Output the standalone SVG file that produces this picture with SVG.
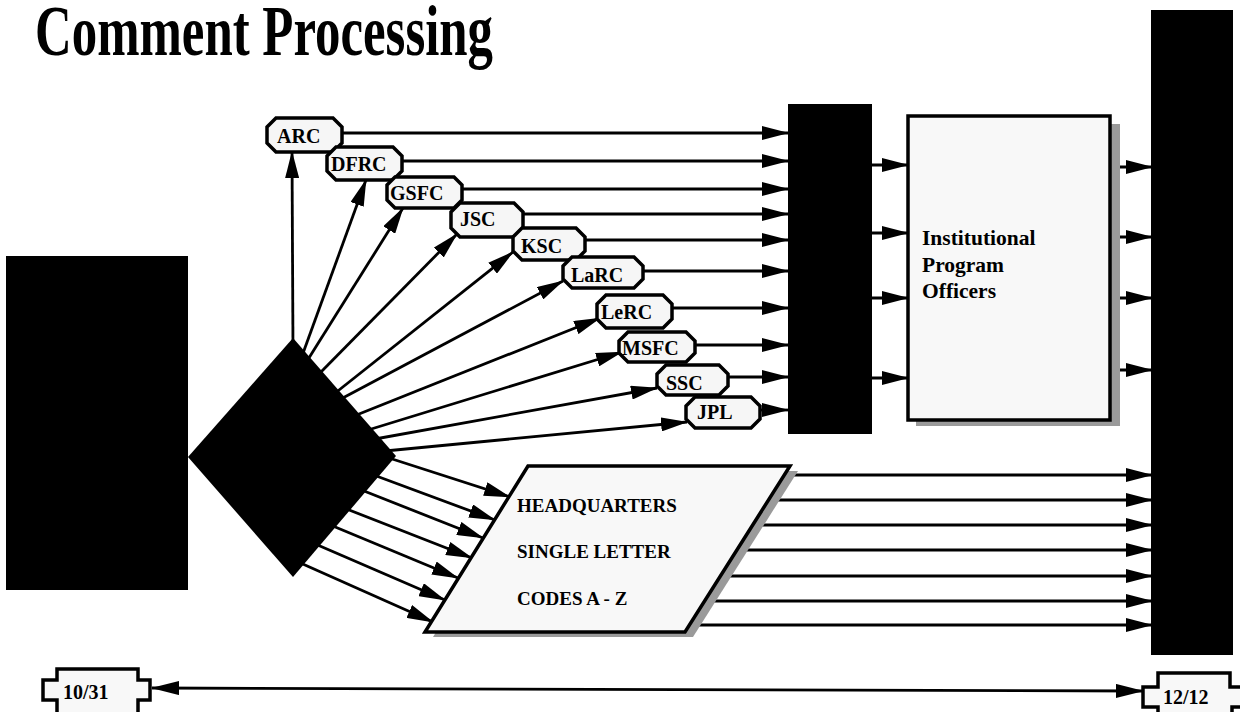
<svg xmlns="http://www.w3.org/2000/svg" width="1240" height="712" viewBox="0 0 1240 712">
<style>
  .t { font-family: "Liberation Serif", "Times New Roman", serif; font-weight: bold; fill: #000; }
  .lbl { font-size: 20px; }
  .blk { fill: #000; stroke: none; }
  .oct { fill: #f6f6f6; stroke: #000; stroke-width: 3.5; stroke-linejoin: miter; }
  .box { fill: #f8f8f8; stroke: #000; stroke-width: 3.5; }
  .shadow { fill: #9a9a9a; stroke: none; }
  .c line { stroke: #000; stroke-width: 2.8; fill: none; marker-end: url(#ah); }
</style>
<defs>
  <marker id="ah" markerUnits="userSpaceOnUse" viewBox="0 0 27 14" refX="26" refY="7" markerWidth="27" markerHeight="14" orient="auto">
    <path d="M0,0 L27,7 L0,14 z" fill="#000"/>
  </marker>
  <marker id="ahs" markerUnits="userSpaceOnUse" viewBox="0 0 28 14" refX="27" refY="7" markerWidth="28" markerHeight="14" orient="auto-start-reverse">
    <path d="M0,0 L28,7 L0,14 z" fill="#000"/>
  </marker>
</defs>
<rect width="1240" height="712" fill="#fff"/>

<text id="title" class="t" x="35" y="55" font-size="72" textLength="458" lengthAdjust="spacingAndGlyphs">Comment Processing</text>

<g id="connectors" class="c">
  <!-- diamond to centers -->
  <line x1="293" y1="350" x2="292" y2="152"/>
  <line x1="302" y1="356" x2="366" y2="180"/>
  <line x1="307" y1="361" x2="403" y2="208"/>
  <line x1="318" y1="375" x2="457" y2="234"/>
  <line x1="334" y1="394" x2="513" y2="252"/>
  <line x1="339" y1="400" x2="563" y2="281"/>
  <line x1="354" y1="416" x2="600" y2="318"/>
  <line x1="368" y1="430" x2="622" y2="352"/>
  <line x1="375" y1="439" x2="657" y2="388"/>
  <line x1="385" y1="451" x2="687" y2="422"/>
  <!-- centers to middle column -->
  <line x1="340" y1="133" x2="788" y2="133"/>
  <line x1="400" y1="161" x2="788" y2="161"/>
  <line x1="460" y1="189" x2="788" y2="189"/>
  <line x1="521" y1="214" x2="788" y2="214"/>
  <line x1="583" y1="240" x2="788" y2="240"/>
  <line x1="641" y1="271" x2="788" y2="271"/>
  <line x1="670" y1="308" x2="788" y2="308"/>
  <line x1="693" y1="345" x2="788" y2="345"/>
  <line x1="726" y1="377" x2="788" y2="377"/>
  <line x1="758" y1="410" x2="788" y2="410"/>
  <!-- middle column to institutional box -->
  <line x1="872" y1="165" x2="908" y2="165"/>
  <line x1="872" y1="233" x2="908" y2="233"/>
  <line x1="872" y1="298" x2="908" y2="298"/>
  <line x1="872" y1="378" x2="908" y2="378"/>
  <!-- institutional box to right column -->
  <line x1="1118" y1="167" x2="1152" y2="167"/>
  <line x1="1118" y1="237" x2="1152" y2="237"/>
  <line x1="1118" y1="298" x2="1152" y2="298"/>
  <line x1="1118" y1="370" x2="1152" y2="370"/>
  <!-- diamond to headquarters -->
  <line x1="386" y1="457" x2="510" y2="497"/>
  <line x1="371" y1="474" x2="495" y2="520"/>
  <line x1="359" y1="489" x2="483" y2="538"/>
  <line x1="344" y1="508" x2="472" y2="558"/>
  <line x1="328" y1="524" x2="458" y2="578"/>
  <line x1="313" y1="543" x2="445" y2="600"/>
  <line x1="296" y1="561" x2="433" y2="622"/>
  <!-- headquarters to right column -->
  <line x1="780" y1="475" x2="1152" y2="475"/>
  <line x1="770" y1="500" x2="1152" y2="500"/>
  <line x1="755" y1="525" x2="1152" y2="525"/>
  <line x1="740" y1="550" x2="1152" y2="550"/>
  <line x1="725" y1="576" x2="1152" y2="576"/>
  <line x1="710" y1="601" x2="1152" y2="601"/>
  <line x1="695" y1="625" x2="1152" y2="625"/>
  <!-- bottom double arrow -->
  <line x1="152" y1="688" x2="1143" y2="691" style="marker-start:url(#ahs);marker-end:url(#ahs)"/>
</g>

<g id="source">
  <rect class="blk" x="6" y="256" width="182" height="334"/>
</g>
<g id="split">
  <polygon class="blk" points="293,338 396,456 293,577 188,457"/>
</g>

<g id="ARC"><path class="oct" d="M276,118 H333 L342,127 V143 L333,152 H276 L267,143 V127 Z"/><text class="t lbl" x="277" y="143">ARC</text></g>
<g id="DFRC"><path class="oct" d="M336,147 H393 L402,156 V171 L393,180 H336 L327,171 V156 Z"/><text class="t lbl" x="331" y="171">DFRC</text></g>
<g id="GSFC"><path class="oct" d="M395,177 H454 L462,185 V200 L454,208 H395 L387,200 V185 Z"/><text class="t lbl" x="390" y="200">GSFC</text></g>
<g id="JSC"><path class="oct" d="M460,203 H514 L523,212 V228 L514,237 H460 L451,228 V212 Z"/><text class="t lbl" x="460" y="226">JSC</text></g>
<g id="KSC"><path class="oct" d="M522,228 H576 L585,237 V251 L576,260 H522 L513,251 V237 Z"/><text class="t lbl" x="521" y="253">KSC</text></g>
<g id="LaRC"><path class="oct" d="M572,257 H634 L643,266 V279 L634,288 H572 L563,279 V266 Z"/><text class="t lbl" x="571" y="282">LaRC</text></g>
<g id="LeRC"><path class="oct" d="M606,295 H663 L672,304 V319 L663,328 H606 L597,319 V304 Z"/><text class="t lbl" x="601" y="319">LeRC</text></g>
<g id="MSFC"><path class="oct" d="M628,332 H686 L695,341 V353 L686,362 H628 L619,353 V341 Z"/><text class="t lbl" x="622" y="355">MSFC</text></g>
<g id="SSC"><path class="oct" d="M666,365 H719 L728,374 V386 L719,395 H666 L657,386 V374 Z"/><text class="t lbl" x="666" y="390">SSC</text></g>
<g id="JPL"><path class="oct" d="M695,397 H751 L760,406 V419 L751,428 H695 L686,419 V406 Z"/><text class="t lbl" x="697" y="419">JPL</text></g>

<g id="middle-column">
  <rect class="blk" x="788" y="104" width="84" height="330"/>
</g>

<g id="institutional">
  <rect class="shadow" x="916" y="124" width="204" height="302"/>
  <rect class="box" x="908" y="116" width="202" height="304"/>
  <text class="t" font-size="21.5" x="922" y="245">Institutional</text>
  <text class="t" font-size="21.5" x="922" y="272">Program</text>
  <text class="t" font-size="21.5" x="922" y="298">Officers</text>
</g>

<g id="right-column">
  <rect class="blk" x="1151" y="10" width="82" height="645"/>
</g>

<g id="headquarters">
  <polygon class="shadow" points="536,471 798,471 693,637 433,637"/>
  <polygon class="box" points="528,466 790,466 685,632 425,632"/>
  <text class="t" font-size="19" x="517" y="512">HEADQUARTERS</text>
  <text class="t" font-size="19" x="517" y="558">SINGLE LETTER</text>
  <text class="t" font-size="19" x="517" y="605">CODES A - Z</text>
</g>

<g id="date-start">
  <path class="box" d="M57,725 V700 H43 V680 H57 V669 H138 V680 H150 V700 H138 V725" fill="#fff"/>
  <text class="t" font-size="20" x="63" y="699">10/31</text>
</g>
<g id="date-end">
  <path class="box" d="M1158,730 V707 H1143 V687 H1158 V673 H1230 V687 H1252 V707 H1232 V730" fill="#fff"/>
  <text class="t" font-size="20" x="1163" y="704">12/12</text>
</g>
</svg>
